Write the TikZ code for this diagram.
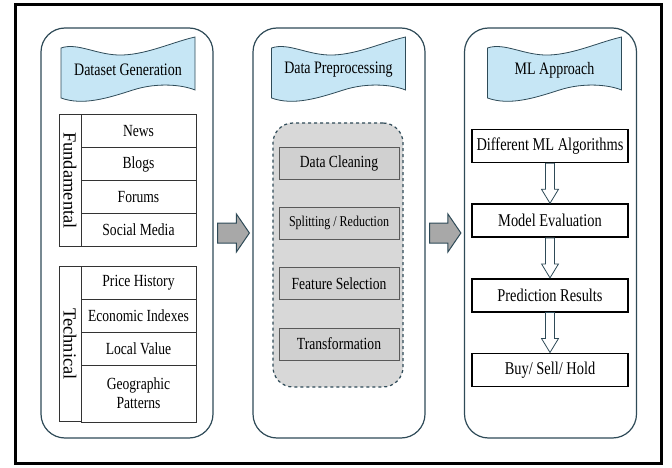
\documentclass[tikz,border=0pt]{standalone}
\usepackage{fontspec}
\setmainfont{Liberation Serif}[FakeStretch=0.8]
\newfontfamily\vertfont{Liberation Serif}
\usetikzlibrary{positioning, calc}
\definecolor{frameblue}{HTML}{2E4A57}
\definecolor{bannerblue}{HTML}{C6E6F5}
\definecolor{stagegray}{HTML}{D8D8D8}
\definecolor{stepgray}{HTML}{D0D0D0}
\definecolor{arrowgray}{HTML}{A8A8A8}
\tikzstyle{panel} = [rectangle, rounded corners=24pt, draw=frameblue, line width=1.2pt, minimum width=172pt, minimum height=410pt]
\tikzstyle{bannertext} = [inner sep=0pt, font=\fontsize{17.5}{20}\selectfont]
\tikzstyle{cell} = [rectangle, draw=black!80, line width=0.8pt, minimum width=115pt, minimum height=33pt, inner sep=0pt, outer sep=0pt, align=center, font=\fontsize{17}{19}\selectfont]
\tikzstyle{side} = [rectangle, draw=black!80, line width=0.8pt, minimum height=22pt, inner sep=0pt, outer sep=0pt, font=\vertfont\fontsize{18.5}{20}\selectfont]
\tikzstyle{stagebox} = [rectangle, rounded corners=20pt, dashed, draw=frameblue, fill=stagegray, line width=1.2pt, minimum width=130pt, minimum height=264pt]
\tikzstyle{prep} = [rectangle, draw=black!65, fill=stepgray, line width=0.8pt, minimum width=120pt, minimum height=32pt, font=\fontsize{17}{19}\selectfont]
\tikzstyle{mlbox} = [rectangle, draw=black, fill=white, line width=1.6pt, minimum width=156pt, minimum height=33pt, font=\fontsize{18}{20}\selectfont]
\tikzset{
	WAVE/.style={draw=frameblue, fill=bannerblue, line width=0.8pt},
	HOLLOW/.style={draw=frameblue, fill=white, line width=0.8pt},
	BIGARROW/.style={draw=frameblue, fill=arrowgray, line width=1pt}
}
\newcommand{\wavebanner}[4]{\draw[WAVE, shift={(#2,#3)}] (-67,-22) .. controls (-50,-28) and (-30,-14) .. (-5,-15)
	.. controls (20,-16) and (45,-28) .. (67,-33) -- (67,20) .. controls (55,15) and (30,12) .. (5,20)
	.. controls (-20,28) and (-45,36) .. (-67,28) -- cycle;
	\node (#1) [bannertext] at (#2,#3) {#4};}
\newcommand{\flowarrow}[2]{\draw[HOLLOW] let \p1=(#1.south), \p2=(#2.north) in
	(\x1-4.5pt,\y1) -- (\x1+4.5pt,\y1) -- (\x1+4.5pt,\y2+14pt) -- (\x1+8.5pt,\y2+14pt) -- (\x1,\y2) -- (\x1-8.5pt,\y2+14pt) -- (\x1-4.5pt,\y2+14pt) -- cycle;}
\newcommand{\stagearrow}[2]{\draw[BIGARROW] let \p1=(#1.east), \p2=(#2.west) in
	(\x1+4pt,\y1+10pt) -- (\x2-16pt,\y1+10pt) -- (\x2-16pt,\y1+19pt) -- (\x2-3pt,\y1) -- (\x2-16pt,\y1-19pt) -- (\x2-16pt,\y1-10pt) -- (\x1+4pt,\y1-10pt) -- cycle;}

\begin{document}
\begin{tikzpicture}[x=1pt, y=-1pt]
	\useasboundingbox (0,0) rectangle (672,468);
	\draw[line width=3pt] (15.5,5) rectangle (661.5,463.5);

	\node (gen) [panel] at (127,233) {};
	\node (pre) [panel] at (339,233) {};
	\node (ml) [panel] at (550.5,233) {};

	\wavebanner{genbanner}{128}{70}{Dataset Generation}
	\wavebanner{prebanner}{338.5}{70}{Data Preprocessing}
	\wavebanner{mlbanner}{554.5}{70}{ML Approach}

	\node (news) [cell] at (138.5,131) {News};
	\node (blogs) [cell, below=0pt of news] {Blogs};
	\node (forums) [cell, below=0pt of blogs] {Forums};
	\node (social) [cell, below=0pt of forums] {Social Media};
	\node (fund) [side, rotate=-90, minimum width=132pt, anchor=north] at ($(news.north west)!0.5!(social.south west)$) {Fundamental};

	\node (price) [cell] at (138.5,282.5) {Price History};
	\node (econ) [cell, below=0pt of price] {Economic Indexes};
	\node (local) [cell, below=0pt of econ] {Local Value};
	\node (geo) [cell, below=0pt of local, minimum height=57pt] {Geographic\\Patterns};
	\node (tech) [side, rotate=-90, minimum width=155pt, anchor=north] at ($(price.north west)!0.5!(geo.south west)$) {Technical};

	\node (steps) [stagebox] at (338,255) {};
	\node (clean) [prep] at (339,163) {Data Cleaning};
	\node (split) [prep, below=27.5pt of clean, font=\fontsize{15}{17}\selectfont] {Splitting / Reduction};
	\node (feat) [prep, below=27.5pt of split] {Feature Selection};
	\node (trans) [prep, below=27.5pt of feat] {Transformation};

	\node (algs) [mlbox] at (550,146) {Different ML Algorithms};
	\node (eval) [mlbox, below=40pt of algs] {Model Evaluation};
	\node (pred) [mlbox, below=40pt of eval] {Prediction Results};
	\node (act) [mlbox, below=40pt of pred] {Buy/ Sell/ Hold};

	\flowarrow{algs}{eval}
	\flowarrow{eval}{pred}
	\flowarrow{pred}{act}
	\stagearrow{gen}{pre}
	\stagearrow{pre}{ml}
\end{tikzpicture}
\end{document}
